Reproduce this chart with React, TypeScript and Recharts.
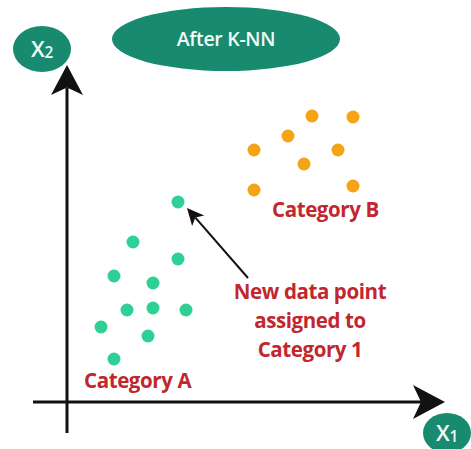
import { ReferenceDot, ReferenceLine, Scatter, ScatterChart, XAxis, YAxis } from "recharts";

// one unit = 4px, origin where the two axes cross
const categoryA = [
  { x: 16.5, y: 40 },
  { x: 27.75, y: 35.75 },
  { x: 11.75, y: 31.5 },
  { x: 21.5, y: 29.75 },
  { x: 15, y: 23 },
  { x: 21.5, y: 23.5 },
  { x: 29.75, y: 23 },
  { x: 8.5, y: 18.75 },
  { x: 20.25, y: 16.5 },
  { x: 11.75, y: 10.75 },
];

const newPoint = [{ x: 27.75, y: 50 }];

const categoryB = [
  { x: 61.25, y: 71.5 },
  { x: 71.5, y: 71.25 },
  { x: 55.25, y: 66.5 },
  { x: 46.75, y: 63 },
  { x: 67.75, y: 63 },
  { x: 59.25, y: 59.5 },
  { x: 46.75, y: 53 },
  { x: 71.5, y: 54 },
];

const noteLines = ["New data point", "assigned to", "Category 1"];

const TEAL = "#178a6f";
const GREEN = "#2fd096";
const ORANGE = "#f6a315";
const RED = "#c1272d";
const FONT = "'Open Sans', sans-serif";

const dot = (fill: string) => (p: any) => (
  <circle cx={p.cx} cy={p.cy} r={6.5} fill={fill} />
);

const arrow = (head: number, half: number, width: number) => (p: any) => {
  const { x1, y1, x2, y2 } = p;
  const dx = x2 - x1;
  const dy = y2 - y1;
  const len = Math.hypot(dx, dy);
  const ux = dx / len;
  const uy = dy / len;
  const bx = x2 - ux * head;
  const by = y2 - uy * head;
  const nx = x2 - ux * head * 0.75;
  const ny = y2 - uy * head * 0.75;
  return (
    <g>
      <line x1={x1} y1={y1} x2={nx} y2={ny} stroke="#111" strokeWidth={width} />
      <polygon
        points={`${x2},${y2} ${bx - uy * half},${by + ux * half} ${nx},${ny} ${bx + uy * half},${by - ux * half}`}
        fill="#111"
      />
    </g>
  );
};

const bubble = (rx: number, ry: number, text: string, sub?: string, size = 19) => (p: any) => (
  <g>
    <ellipse cx={p.cx} cy={p.cy} rx={rx} ry={ry} fill={TEAL} />
    <text
      x={p.cx}
      y={p.cy + size * 0.35}
      textAnchor="middle"
      fill="#f2fbf8"
      fontFamily={FONT}
      fontWeight={600}
      fontSize={size}
      letterSpacing={-0.3}
    >
      {text}
      {sub && (
        <tspan fontSize={size * 0.7} dy={1}>
          {sub}
        </tspan>
      )}
    </text>
  </g>
);

const label = (lines: string[], anchor: "start" | "middle", size = 20.5) => (p: any) => (
  <text
    x={p.cx}
    y={p.cy}
    textAnchor={anchor}
    fill={RED}
    fontFamily={FONT}
    fontWeight={700}
    fontSize={size}
    letterSpacing={-0.4}
  >
    {lines.map((l, i) => (
      <tspan key={l} x={p.cx} dy={i === 0 ? 0 : 29}>
        {l}
      </tspan>
    ))}
  </text>
);

export default function App() {
  return (
    <div style={{ position: "absolute", left: 0, top: 0, background: "#fff" }}>
      <ScatterChart width={471} height={449} margin={{ top: 0, right: 0, bottom: 0, left: 0 }}>
        <XAxis type="number" dataKey="x" domain={[-16.75, 101]} hide />
        <YAxis type="number" dataKey="y" domain={[-11.75, 100.5]} hide />

        <ReferenceLine
          segment={[{ x: 0, y: -7.75 }, { x: 0, y: 84.25 }]}
          shape={arrow(30, 16, 3)}
        />
        <ReferenceLine
          segment={[{ x: -8.5, y: 0 }, { x: 94.5, y: 0 }]}
          shape={arrow(32, 17, 3)}
        />
        <ReferenceLine
          segment={[{ x: 45.25, y: 31 }, { x: 30, y: 48.5 }]}
          shape={arrow(17, 8, 2)}
        />

        <Scatter data={categoryA} isAnimationActive={false} shape={dot(GREEN)} />
        <Scatter data={newPoint} isAnimationActive={false} shape={dot(GREEN)} />
        <Scatter data={categoryB} isAnimationActive={false} shape={dot(ORANGE)} />

        <ReferenceDot x={39.75} y={90.75} shape={bubble(114, 32, "After K-NN", undefined, 19.5)} />
        <ReferenceDot x={-6.25} y={88.25} shape={bubble(29, 23, "X", "2", 22)} />
        <ReferenceDot x={95} y={-7.75} ifOverflow="visible" shape={bubble(24, 20, "X", "1", 22)} />

        <ReferenceDot x={51.25} y={46.25} shape={label(["Category B"], "start")} />
        <ReferenceDot x={4.25} y={3.5} shape={label(["Category A"], "start")} />
        <ReferenceDot x={60.75} y={25.75} shape={label(noteLines, "middle")} />
      </ScatterChart>
    </div>
  );
}
